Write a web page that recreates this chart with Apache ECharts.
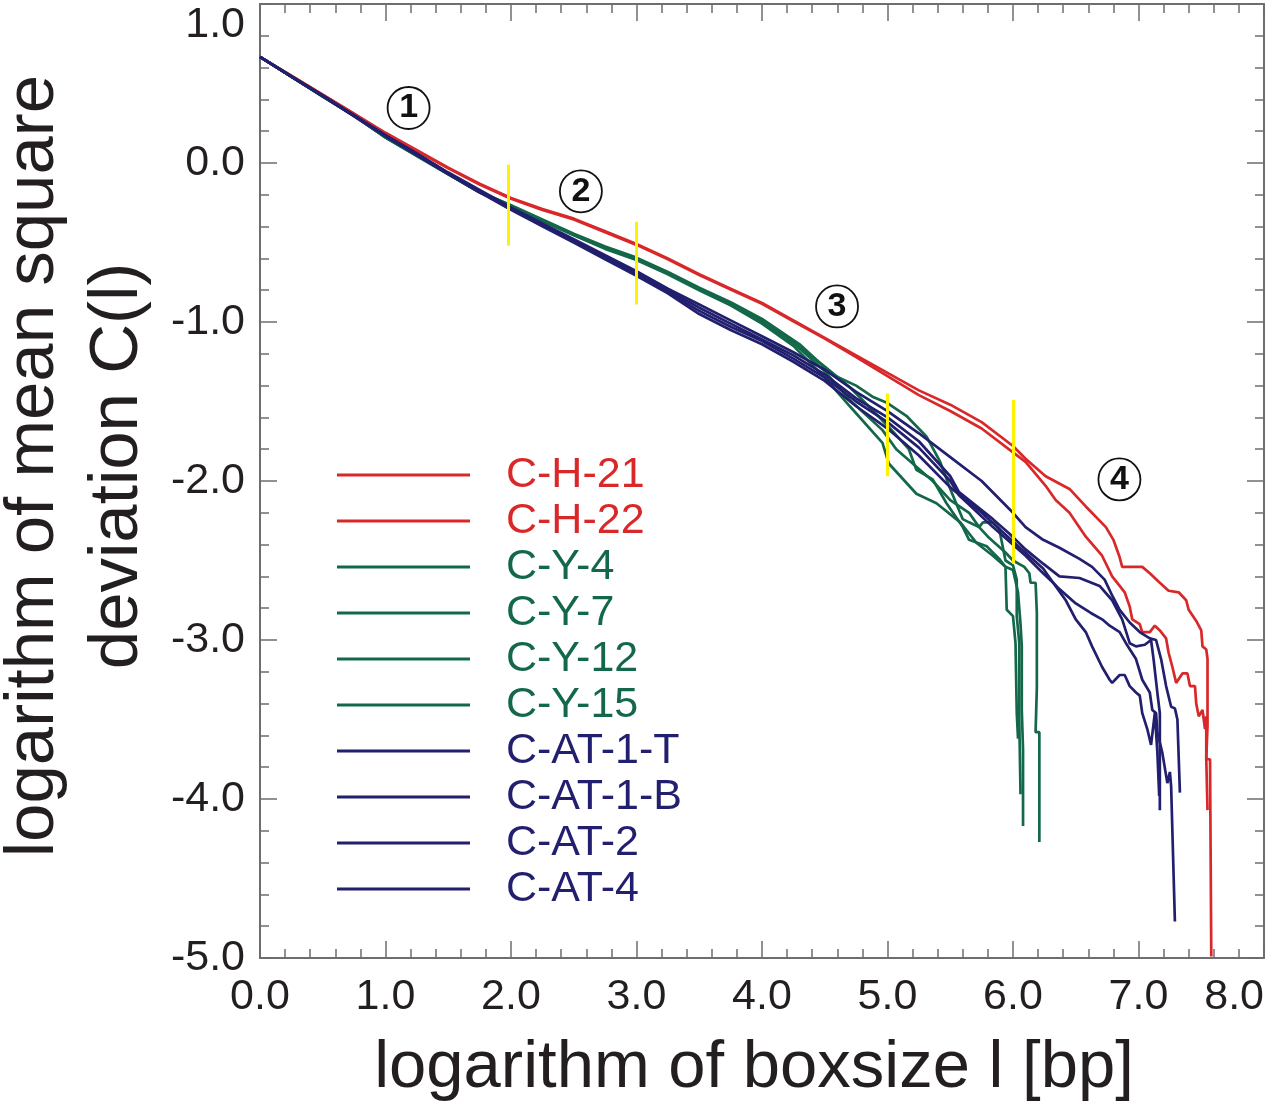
<!DOCTYPE html>
<html>
<head>
<meta charset="utf-8">
<script src="https://cdn.jsdelivr.net/npm/echarts@6/dist/echarts.min.js"></script>
<style>
html,body{margin:0;padding:0;background:#fff;}
#chart{width:1270px;height:1102px;}
</style>
</head>
<body>
<div id="chart"></div>
<script>
// ---------- data ----------
const SERIES_NAMES = ['C-H-21','C-H-22','C-Y-4','C-Y-7','C-Y-12','C-Y-15','C-AT-1-T','C-AT-1-B','C-AT-2','C-AT-4'];
const SERIES_COLORS = ['#d8282a','#d8282a','#14684a','#14684a','#14684a','#14684a','#211f6e','#211f6e','#211f6e','#211f6e'];

const X_TICKS = [0,1,2,3,4,5,6,7,8];
const Y_TICKS = [-5,-4,-3,-2,-1,0,1];

const C_H_21 = [[0,0.667],[0.25,0.55],[0.5,0.43],[0.75,0.31],[1.0,0.19],[1.25,0.08],[1.5,-0.03],[1.75,-0.13],[2.0,-0.22],[2.25,-0.29],[2.5,-0.35],[2.75,-0.43],[3.0,-0.51],[3.25,-0.60],[3.5,-0.70],[3.75,-0.79],[4.0,-0.88],[4.25,-0.99],[4.5,-1.10],[4.75,-1.21],[5.0,-1.32],[5.25,-1.43],[5.5,-1.52],[5.75,-1.63],[6.0,-1.78],[6.1,-1.86],[6.26,-1.97],[6.45,-2.05],[6.58,-2.16],[6.74,-2.29],[6.8,-2.37],[6.85,-2.48],[6.87,-2.54],[7.03,-2.54],[7.09,-2.58],[7.17,-2.64],[7.24,-2.69],[7.32,-2.70],[7.38,-2.75],[7.40,-2.81],[7.46,-2.88],[7.50,-2.94],[7.51,-3.04],[7.54,-3.06],[7.55,-3.12],[7.55,-3.54],[7.54,-3.75],[7.57,-3.75],[7.58,-4.99]];
const C_H_22 = [[0,0.667],[0.25,0.548],[0.5,0.428],[0.75,0.308],[1.0,0.186],[1.25,0.076],[1.5,-0.034],[1.75,-0.135],[2.0,-0.225],[2.25,-0.295],[2.5,-0.355],[2.75,-0.435],[3.0,-0.515],[3.25,-0.605],[3.5,-0.705],[3.75,-0.795],[4.0,-0.885],[4.25,-0.995],[4.5,-1.105],[4.75,-1.22],[5.0,-1.34],[5.25,-1.46],[5.5,-1.56],[5.75,-1.67],[6.0,-1.82],[6.1,-1.88],[6.26,-2.03],[6.34,-2.12],[6.45,-2.20],[6.58,-2.35],[6.71,-2.47],[6.79,-2.60],[6.85,-2.66],[6.89,-2.70],[6.93,-2.79],[6.95,-2.87],[7.01,-2.90],[7.03,-2.95],[7.09,-2.95],[7.13,-2.91],[7.17,-2.94],[7.22,-2.99],[7.24,-3.08],[7.27,-3.17],[7.30,-3.27],[7.35,-3.21],[7.39,-3.21],[7.41,-3.29],[7.45,-3.29],[7.46,-3.40],[7.48,-3.48],[7.51,-3.44],[7.53,-3.56],[7.54,-3.48],[7.54,-3.75],[7.55,-4.07]];

const C_Y_4 = [[0,0.667],[0.25,0.545],[0.5,0.42],[0.75,0.30],[1.0,0.165],[1.25,0.05],[1.5,-0.065],[1.75,-0.18],[2.0,-0.265],[2.25,-0.355],[2.5,-0.445],[2.75,-0.525],[3.0,-0.595],[3.25,-0.685],[3.5,-0.785],[3.75,-0.875],[4.0,-0.98],[4.3,-1.14],[4.56,-1.33],[4.75,-1.40],[4.88,-1.47],[5.0,-1.51],[5.15,-1.59],[5.31,-1.72],[5.42,-1.88],[5.5,-2.05],[5.6,-2.24],[5.65,-2.26],[5.73,-2.29],[5.76,-2.26],[5.84,-2.26],[5.89,-2.30],[5.94,-2.50],[6.0,-2.53],[6.03,-2.62],[6.03,-2.85],[6.05,-3.02],[6.05,-3.5],[6.06,-3.97]];
const C_Y_7 = [[0,0.667],[0.25,0.544],[0.5,0.418],[0.75,0.298],[1.0,0.162],[1.25,0.047],[1.5,-0.068],[1.75,-0.183],[2.0,-0.268],[2.25,-0.36],[2.5,-0.45],[2.75,-0.53],[3.0,-0.60],[3.25,-0.69],[3.5,-0.79],[3.75,-0.885],[4.0,-0.99],[4.3,-1.16],[4.5,-1.28],[4.7,-1.41],[4.85,-1.53],[5.01,-1.66],[5.17,-1.80],[5.23,-1.93],[5.36,-1.99],[5.47,-2.14],[5.6,-2.29],[5.65,-2.37],[5.79,-2.41],[5.89,-2.49],[5.94,-2.54],[6.0,-2.56],[6.04,-2.70],[6.06,-2.90],[6.07,-3.04],[6.07,-3.44],[6.08,-3.69],[6.08,-4.17]];
const C_Y_12 = [[0,0.667],[0.25,0.543],[0.5,0.417],[0.75,0.296],[1.0,0.16],[1.25,0.044],[1.5,-0.072],[1.75,-0.186],[2.0,-0.272],[2.25,-0.365],[2.5,-0.455],[2.75,-0.54],[3.0,-0.61],[3.25,-0.70],[3.5,-0.80],[3.75,-0.895],[4.0,-1.01],[4.25,-1.15],[4.5,-1.35],[4.7,-1.53],[4.96,-1.76],[5.01,-1.89],[5.23,-2.08],[5.39,-2.14],[5.58,-2.26],[5.71,-2.39],[5.84,-2.47],[5.94,-2.54],[5.95,-2.81],[6.0,-2.85],[6.02,-3.02],[6.03,-3.46],[6.04,-3.62]];
const C_Y_15 = [[0,0.667],[0.25,0.544],[0.5,0.419],[0.75,0.297],[1.0,0.161],[1.25,0.046],[1.5,-0.07],[1.75,-0.184],[2.0,-0.27],[2.25,-0.362],[2.5,-0.452],[2.75,-0.535],[3.0,-0.605],[3.25,-0.695],[3.5,-0.795],[3.75,-0.89],[4.0,-1.0],[4.25,-1.13],[4.5,-1.31],[4.7,-1.49],[4.96,-1.68],[5.07,-1.80],[5.23,-1.91],[5.36,-2.0],[5.5,-2.12],[5.65,-2.2],[5.73,-2.29],[5.8,-2.35],[5.94,-2.45],[6.0,-2.50],[6.09,-2.54],[6.13,-2.58],[6.14,-2.64],[6.18,-2.64],[6.19,-2.83],[6.19,-3.3],[6.18,-3.58],[6.21,-3.58],[6.21,-4.27]];

const C_AT_1_T = [[0,0.667],[0.25,0.545],[0.5,0.425],[0.75,0.30],[1.0,0.175],[1.25,0.06],[1.5,-0.06],[1.75,-0.17],[2.0,-0.28],[2.25,-0.38],[2.5,-0.48],[2.75,-0.58],[3.0,-0.68],[3.25,-0.79],[3.5,-0.89],[3.75,-0.99],[4.0,-1.09],[4.25,-1.19],[4.5,-1.30],[4.75,-1.44],[5.0,-1.56],[5.25,-1.70],[5.5,-1.85],[5.75,-2.0],[6.0,-2.20],[6.1,-2.29],[6.24,-2.37],[6.37,-2.42],[6.53,-2.49],[6.63,-2.54],[6.73,-2.62],[6.79,-2.72],[6.85,-2.81],[6.93,-2.89],[7.01,-2.95],[7.09,-2.99],[7.14,-3.0],[7.18,-3.12],[7.22,-3.29],[7.26,-3.42],[7.29,-3.43],[7.31,-3.50],[7.33,-3.96]];
const C_AT_1_B = [[0,0.667],[0.25,0.544],[0.5,0.423],[0.75,0.298],[1.0,0.172],[1.25,0.056],[1.5,-0.064],[1.75,-0.175],[2.0,-0.285],[2.25,-0.386],[2.5,-0.488],[2.75,-0.59],[3.0,-0.69],[3.25,-0.80],[3.5,-0.91],[3.75,-1.01],[4.0,-1.11],[4.25,-1.21],[4.5,-1.33],[4.75,-1.48],[5.0,-1.60],[5.25,-1.75],[5.5,-1.97],[5.57,-2.07],[5.84,-2.24],[5.97,-2.33],[6.10,-2.43],[6.24,-2.52],[6.37,-2.60],[6.53,-2.61],[6.69,-2.66],[6.79,-2.75],[6.87,-2.87],[6.93,-3.02],[6.98,-3.04],[7.05,-3.03],[7.1,-3.0],[7.12,-3.12],[7.15,-3.33],[7.17,-3.46],[7.17,-4.07]];
const C_AT_2 = [[0,0.667],[0.25,0.543],[0.5,0.421],[0.75,0.296],[1.0,0.17],[1.25,0.053],[1.5,-0.067],[1.75,-0.18],[2.0,-0.29],[2.25,-0.392],[2.5,-0.495],[2.75,-0.597],[3.0,-0.70],[3.25,-0.81],[3.5,-0.93],[3.75,-1.03],[4.0,-1.12],[4.25,-1.23],[4.5,-1.35],[4.75,-1.50],[5.0,-1.63],[5.25,-1.79],[5.5,-2.0],[5.57,-2.09],[5.84,-2.29],[6.10,-2.47],[6.24,-2.58],[6.32,-2.64],[6.37,-2.68],[6.50,-2.77],[6.62,-2.83],[6.71,-2.87],[6.77,-2.91],[6.85,-2.95],[6.90,-3.02],[6.98,-3.12],[7.03,-3.25],[7.09,-3.33],[7.11,-3.44],[7.14,-3.46],[7.15,-3.58],[7.19,-3.71],[7.23,-3.90],[7.25,-3.83],[7.26,-3.92],[7.29,-4.77]];
const C_AT_4 = [[0,0.667],[0.25,0.542],[0.5,0.42],[0.75,0.294],[1.0,0.168],[1.25,0.05],[1.5,-0.07],[1.75,-0.185],[2.0,-0.295],[2.25,-0.398],[2.5,-0.50],[2.75,-0.605],[3.0,-0.71],[3.25,-0.82],[3.5,-0.95],[3.75,-1.05],[4.0,-1.14],[4.25,-1.25],[4.5,-1.37],[4.75,-1.53],[5.0,-1.67],[5.25,-1.84],[5.5,-2.04],[5.75,-2.2],[6.0,-2.38],[6.24,-2.55],[6.32,-2.64],[6.42,-2.75],[6.50,-2.87],[6.58,-2.95],[6.63,-3.04],[6.71,-3.17],[6.77,-3.25],[6.79,-3.27],[6.85,-3.22],[6.89,-3.22],[6.93,-3.29],[6.98,-3.33],[7.01,-3.35],[7.03,-3.46],[7.07,-3.56],[7.10,-3.66],[7.13,-3.46],[7.15,-3.70],[7.165,-3.98]];

const SERIES_DATA = [C_H_21, C_H_22, C_Y_4, C_Y_7, C_Y_12, C_Y_15, C_AT_1_T, C_AT_1_B, C_AT_2, C_AT_4];

// circled region numbers: [x, y, label]
const REGION_MARKS = [[1.184,0.346,'1'],[2.557,-0.178,'2'],[4.598,-0.902,'3'],[6.848,-1.99,'4']];

// yellow boundary segments: [x, yTop, yBottom]
const BOUNDARIES = [[1.98,-0.01,-0.52],[3.0,-0.37,-0.89],[5.0,-1.45,-1.97],[6.0,-1.49,-2.52]];

// ---------- chart ----------
const FONT = "'Liberation Sans', Arial, Helvetica, sans-serif";
const AXIS_COLOR = '#6d6e71';
const TEXT_COLOR = '#231f20';

function frameAxis(pos, showLabel, extra) {
  return Object.assign({
    type: 'value',
    position: pos,
    axisLine: { show: true, onZero: false, lineStyle: { color: AXIS_COLOR, width: 2 } },
    axisTick: { show: true, inside: true, length: 17, lineStyle: { color: AXIS_COLOR, width: 1.5 } },
    minorTick: { show: true, splitNumber: 5, length: 9, lineStyle: { color: AXIS_COLOR, width: 1.5 } },
    splitLine: { show: false },
    minorSplitLine: { show: false },
    axisLabel: { show: showLabel }
  }, extra);
}

const chart = echarts.init(document.getElementById('chart'), null, { renderer: 'canvas' });

const lineSeries = SERIES_NAMES.map((name, i) => ({
  type: 'line',
  name: name,
  data: SERIES_DATA[i],
  showSymbol: false,
  symbol: 'none',
  color: SERIES_COLORS[i],
  lineStyle: { width: 2.7, color: SERIES_COLORS[i] },
  itemStyle: { color: SERIES_COLORS[i] },
  emphasis: { disabled: true },
  z: 2
}));

const option = {
  animation: false,
  backgroundColor: '#ffffff',
  textStyle: { fontFamily: FONT },
  grid: { left: 260, top: 4, width: 1004, height: 954, containLabel: false, outerBoundsMode: 'none' },
  xAxis: [
    frameAxis('bottom', true, {
      min: X_TICKS[0], max: X_TICKS[X_TICKS.length - 1], interval: 1,
      axisLabel: { show: true, fontSize: 43, color: TEXT_COLOR, fontFamily: FONT, margin: 18,
        formatter: v => v.toFixed(1), alignMaxLabel: 'right' },
      name: 'logarithm of boxsize l [bp]',
      nameLocation: 'middle', nameGap: 77,
      nameTextStyle: { fontSize: 67, color: TEXT_COLOR, fontFamily: FONT, padding: [0, 16, 0, 0] }
    }),
    frameAxis('top', false, { min: X_TICKS[0], max: X_TICKS[X_TICKS.length - 1], interval: 1 })
  ],
  yAxis: [
    frameAxis('left', true, {
      min: Y_TICKS[0], max: Y_TICKS[Y_TICKS.length - 1], interval: 1,
      axisLabel: { show: true, fontSize: 43, color: TEXT_COLOR, fontFamily: FONT, margin: 15,
        formatter: v => v.toFixed(1), verticalAlignMaxLabel: 'top' },
      name: 'logarithm of mean square\ndeviation C(l)',
      nameLocation: 'middle', nameGap: 92, nameRotate: 90,
      nameTextStyle: { fontSize: 69, lineHeight: 84, color: TEXT_COLOR, fontFamily: FONT, padding: [0, 0, 0, 30] }
    }),
    frameAxis('right', false, { min: Y_TICKS[0], max: Y_TICKS[Y_TICKS.length - 1], interval: 1 })
  ],
  legend: {
    orient: 'vertical', left: 337, top: 452, padding: 0,
    itemWidth: 133, itemHeight: 3, itemGap: 0, icon: 'rect',
    selectedMode: false,
    textStyle: { fontSize: 43, lineHeight: 36, padding: [0, 0, 10, 31], fontFamily: FONT },
    data: SERIES_NAMES.map((n, i) => ({ name: n, textStyle: { color: SERIES_COLORS[i] } }))
  },
  series: lineSeries.concat([{
    type: 'scatter',
    name: 'regions',
    data: REGION_MARKS,
    symbol: 'circle',
    symbolSize: 42,
    itemStyle: { color: '#ffffff', opacity: 1, borderColor: '#111111', borderWidth: 1.8 },
    label: { show: true, position: 'inside', formatter: p => p.value[2], fontSize: 34, fontWeight: 'bold', color: '#111111', fontFamily: FONT, opacity: 1 },
    emphasis: { disabled: true },
    silent: true,
    z: 5,
    markLine: {
      silent: true,
      symbol: ['none', 'none'],
      label: { show: false },
      lineStyle: { color: '#fff200', width: 3, type: 'solid', opacity: 1 },
      emphasis: { disabled: true },
      data: BOUNDARIES.map(b => [{ coord: [b[0], b[1]] }, { coord: [b[0], b[2]] }])
    }
  }])
};

chart.setOption(option);
</script>
</body>
</html>
